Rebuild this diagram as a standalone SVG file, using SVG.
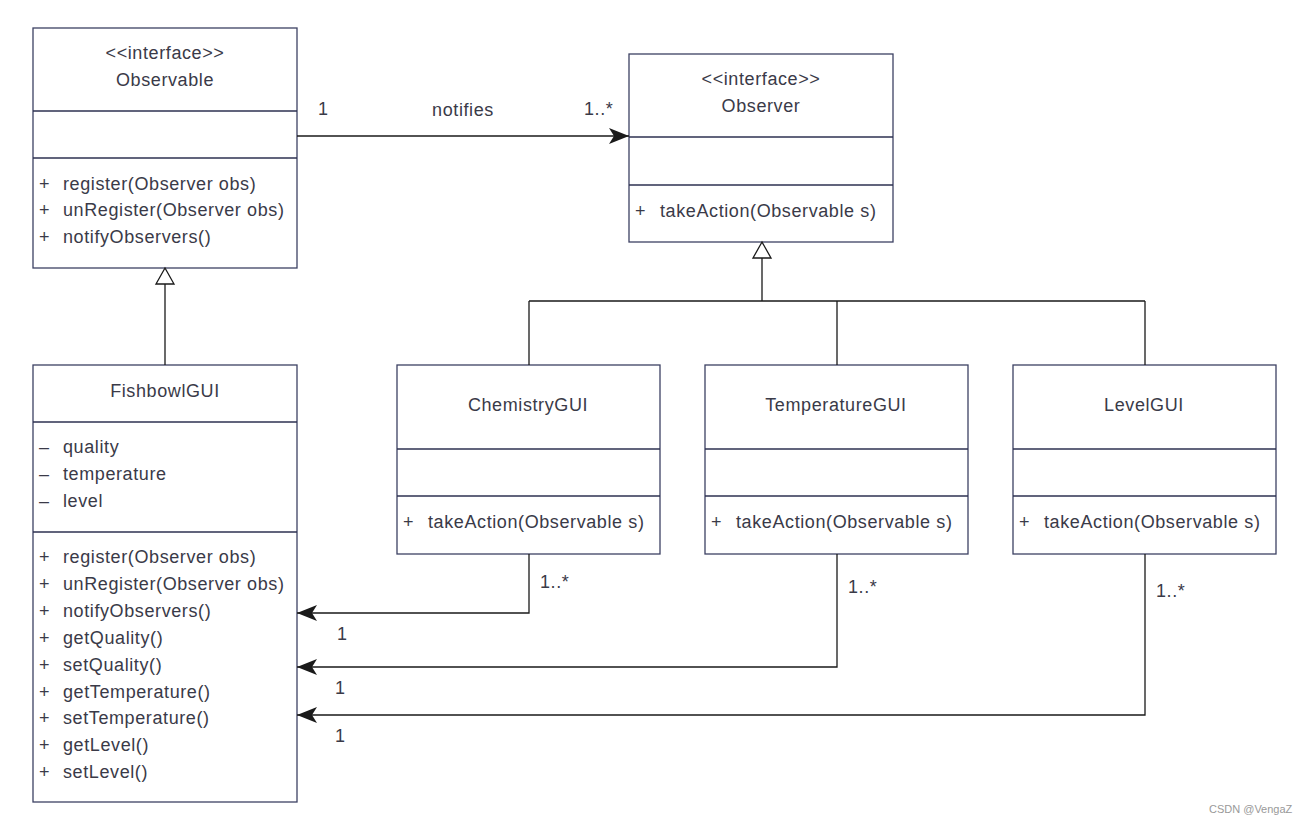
<svg xmlns="http://www.w3.org/2000/svg" width="1306" height="826" viewBox="0 0 1306 826">
<style>
.box{fill:#fff;stroke:#3c4163;stroke-width:1.3}
.div{stroke:#2c3050;stroke-width:1.3}
text{font-family:"Liberation Sans",Arial,sans-serif;font-size:18px;letter-spacing:0.6px;fill:#3a3a48}
.c{text-anchor:middle}
.ln{fill:none;stroke:#1a1a1a;stroke-width:1.3}
.wm{font-size:11px;letter-spacing:0;fill:#999}
</style>
<defs>
<marker id="arr" viewBox="0 0 20 16" refX="20" refY="8" markerWidth="20" markerHeight="16" markerUnits="userSpaceOnUse" orient="auto">
<path d="M0,0 L20,8 L0,16 L5,8 Z" fill="#1a1a1a"/>
</marker>
</defs>
<rect width="1306" height="826" fill="#fff"/>

<g id="observable">
<rect class="box" x="33" y="28" width="264" height="240"/>
<line class="div" x1="33" y1="111" x2="297" y2="111"/>
<line class="div" x1="33" y1="158" x2="297" y2="158"/>
<text class="c" x="165" y="59">&lt;&lt;interface&gt;&gt;</text>
<text class="c" x="165" y="86">Observable</text>
<text x="39" y="190">+</text><text x="63" y="190">register(Observer obs)</text>
<text x="39" y="216">+</text><text x="63" y="216">unRegister(Observer obs)</text>
<text x="39" y="243">+</text><text x="63" y="243">notifyObservers()</text>
</g>

<g id="observer">
<rect class="box" x="629" y="54" width="264" height="188"/>
<line class="div" x1="629" y1="137" x2="893" y2="137"/>
<line class="div" x1="629" y1="185" x2="893" y2="185"/>
<text class="c" x="761" y="85">&lt;&lt;interface&gt;&gt;</text>
<text class="c" x="761" y="112">Observer</text>
<text x="635" y="217">+</text><text x="660" y="217">takeAction(Observable s)</text>
</g>

<g id="fishbowlgui">
<rect class="box" x="33" y="365" width="264" height="437"/>
<line class="div" x1="33" y1="422" x2="297" y2="422"/>
<line class="div" x1="33" y1="532" x2="297" y2="532"/>
<text class="c" x="165" y="397">FishbowlGUI</text>
<text x="39" y="453">–</text><text x="63" y="453">quality</text>
<text x="39" y="480">–</text><text x="63" y="480">temperature</text>
<text x="39" y="507">–</text><text x="63" y="507">level</text>
<text x="39" y="563">+</text><text x="63" y="563">register(Observer obs)</text>
<text x="39" y="590">+</text><text x="63" y="590">unRegister(Observer obs)</text>
<text x="39" y="617">+</text><text x="63" y="617">notifyObservers()</text>
<text x="39" y="644">+</text><text x="63" y="644">getQuality()</text>
<text x="39" y="671">+</text><text x="63" y="671">setQuality()</text>
<text x="39" y="698">+</text><text x="63" y="698">getTemperature()</text>
<text x="39" y="724">+</text><text x="63" y="724">setTemperature()</text>
<text x="39" y="751">+</text><text x="63" y="751">getLevel()</text>
<text x="39" y="778">+</text><text x="63" y="778">setLevel()</text>
</g>

<g id="chemistrygui">
<rect class="box" x="397" y="365" width="263" height="189"/>
<line class="div" x1="397" y1="449" x2="660" y2="449"/>
<line class="div" x1="397" y1="496" x2="660" y2="496"/>
<text class="c" x="528" y="411">ChemistryGUI</text>
<text x="403" y="528">+</text><text x="428" y="528">takeAction(Observable s)</text>
</g>

<g id="temperaturegui">
<rect class="box" x="705" y="365" width="263" height="189"/>
<line class="div" x1="705" y1="449" x2="968" y2="449"/>
<line class="div" x1="705" y1="496" x2="968" y2="496"/>
<text class="c" x="836" y="411">TemperatureGUI</text>
<text x="711" y="528">+</text><text x="736" y="528">takeAction(Observable s)</text>
</g>

<g id="levelgui">
<rect class="box" x="1013" y="365" width="263" height="189"/>
<line class="div" x1="1013" y1="449" x2="1276" y2="449"/>
<line class="div" x1="1013" y1="496" x2="1276" y2="496"/>
<text class="c" x="1144" y="411">LevelGUI</text>
<text x="1019" y="528">+</text><text x="1044" y="528">takeAction(Observable s)</text>
</g>

<g id="connectors">
<line class="ln" x1="297" y1="136" x2="629" y2="136" marker-end="url(#arr)"/>
<text x="318" y="115">1</text>
<text class="c" x="463" y="116">notifies</text>
<text x="584" y="115">1..*</text>

<line class="ln" x1="165" y1="365" x2="165" y2="284"/>
<path d="M165,268 L174,284 L156,284 Z" fill="#fff" stroke="#1a1a1a" stroke-width="1.3"/>

<path class="ln" d="M762,258 L762,301 M529,301 L1145,301 M529,301 L529,365 M837,301 L837,365 M1145,301 L1145,365"/>
<path d="M762,242 L771,258 L753,258 Z" fill="#fff" stroke="#1a1a1a" stroke-width="1.3"/>

<path class="ln" d="M529,554 L529,613 L297,613" marker-end="url(#arr)"/>
<path class="ln" d="M837,554 L837,667 L297,667" marker-end="url(#arr)"/>
<path class="ln" d="M1145,554 L1145,715 L297,715" marker-end="url(#arr)"/>
<text x="540" y="588">1..*</text>
<text x="848" y="593">1..*</text>
<text x="1156" y="597">1..*</text>
<text x="337" y="640">1</text>
<text x="335" y="694">1</text>
<text x="335" y="742">1</text>
</g>

<text class="wm" x="1209" y="813">CSDN @VengaZ</text>
</svg>
